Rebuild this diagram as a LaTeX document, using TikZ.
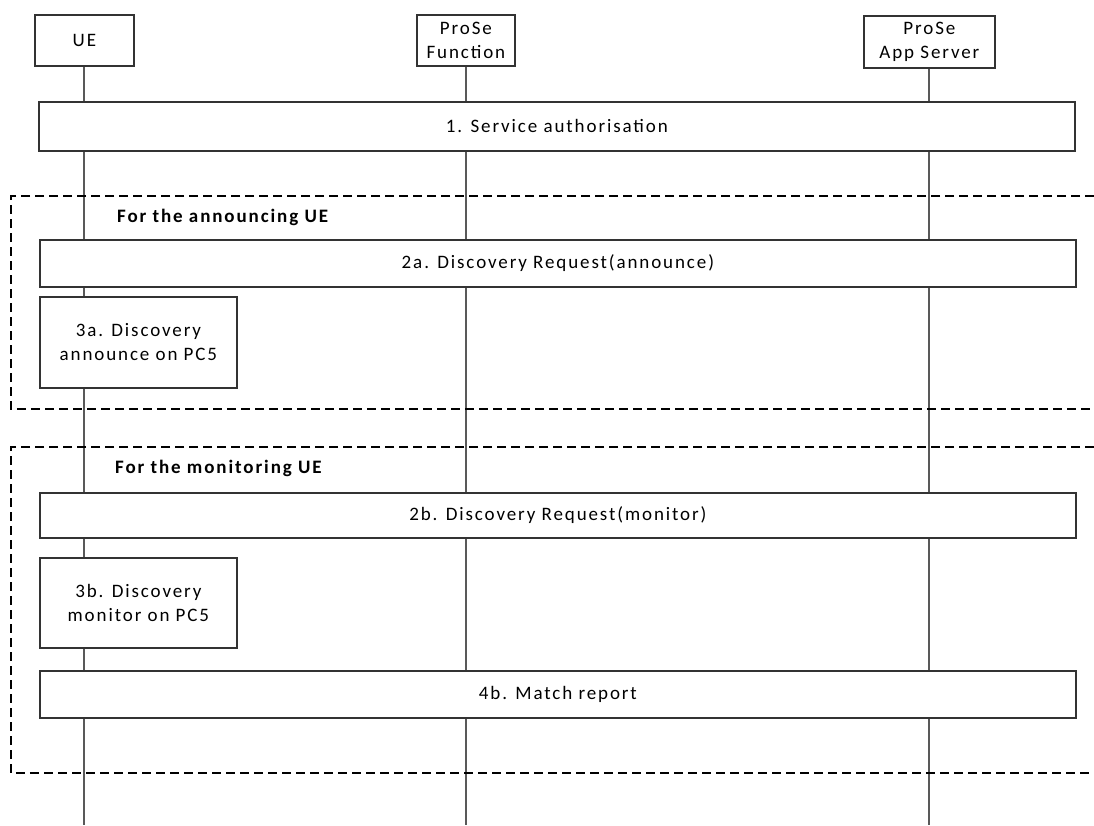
\documentclass[tikz,border=0pt]{standalone}
\usepackage{fontspec}
\setmainfont{Carlito}[LetterSpace=10]
\begin{document}
\begin{tikzpicture}[x=1pt,y=-1pt,
  every node/.style={font=\fontsize{19}{24}\selectfont},
  actor/.style={draw=black!80, line width=1.8pt, fill=white, align=center, inner sep=0pt, anchor=north west},
  stepbox/.style={draw=black!80, line width=1.8pt, fill=white, align=center, inner sep=0pt, anchor=north west},
  lifeline/.style={draw=black!65, line width=2pt},
  frame/.style={draw=black, line width=2.8pt, dash pattern=on 9pt off 5pt},
  framelabel/.style={anchor=west, inner sep=0pt, font=\fontsize{19}{24}\selectfont\bfseries}]
\useasboundingbox (0,0) rectangle (1094,825);
% actors
\node[actor, minimum width=99pt, minimum height=51pt] (ue) at (34,14) {UE};
\node[actor, minimum width=98pt, minimum height=51pt] (pf) at (416,14) {ProSe\\Function};
\node[actor, minimum width=131pt, minimum height=52pt] (as) at (863,15) {ProSe\\App Server};
% lifeline ends
\coordinate (ueEnd) at (ue.south |- 0,825);
\coordinate (pfEnd) at (pf.south |- 0,825);
\coordinate (asEnd) at (as.south |- 0,825);
\draw[lifeline] (ue.south) -- (ueEnd);
\draw[lifeline] (pf.south) -- (pfEnd);
\draw[lifeline] (as.south) -- (asEnd);
% steps
\node[stepbox, minimum width=1036pt, minimum height=49pt] (s1) at (38,101) {1. Service authorisation};
\node[stepbox, minimum width=1036pt, minimum height=47pt] (s2a) at (39,239) {2a. Discovery Request(announce)};
\node[stepbox, minimum width=197pt, minimum height=91pt] (s3a) at (39,296) {3a. Discovery\\announce on PC5};
\node[stepbox, minimum width=1036pt, minimum height=45pt] (s2b) at (39,492) {2b. Discovery Request(monitor)};
\node[stepbox, minimum width=197pt, minimum height=90pt] (s3b) at (39,557) {3b. Discovery\\monitor on PC5};
\node[stepbox, minimum width=1036pt, minimum height=47pt] (s4b) at (39,670) {4b. Match report};
% frames
\coordinate (fa1) at (1094,196);
\coordinate (fa2) at (11,196);
\coordinate (fa3) at (11,409);
\coordinate (fa4) at (1094,409);
\draw[frame] (fa1) -- (fa2) -- (fa3) -- (fa4);
\coordinate (fb1) at (1094,447);
\coordinate (fb2) at (11,447);
\coordinate (fb3) at (11,773);
\coordinate (fb4) at (1094,773);
\draw[frame] (fb1) -- (fb2) -- (fb3) -- (fb4);
\node[framelabel] (la) at (117,217) {For the announcing UE};
\node[framelabel] (lb) at (115,468) {For the monitoring UE};
\end{tikzpicture}
\end{document}
